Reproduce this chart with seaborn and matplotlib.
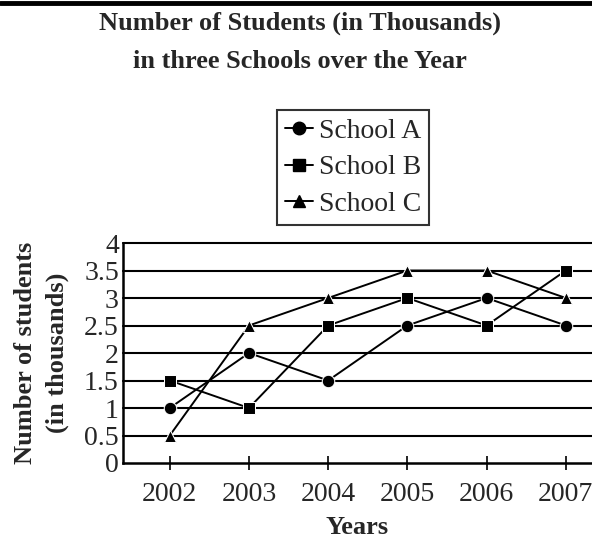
import matplotlib
matplotlib.use("Agg")
import matplotlib.pyplot as plt
import seaborn as sns
import pandas as pd
from matplotlib.lines import Line2D

years = [2002, 2003, 2004, 2005, 2006, 2007]
school_a = [1, 2, 1.5, 2.5, 3, 2.5]
school_b = [1.5, 1, 2.5, 3, 2.5, 3.5]
school_c = [0.5, 2.5, 3, 3.5, 3.5, 3]
series_names = ["School A", "School B", "School C"]
y_ticks = [0, 0.5, 1, 1.5, 2, 2.5, 3, 3.5, 4]
y_tick_labels = ["0", "0.5", "1", "1.5", "2", "2.5", "3", "3.5", "4"]

df = pd.DataFrame({
    "Year": years * 3,
    "Students": school_a + school_b + school_c,
    "School": [series_names[0]] * 6 + [series_names[1]] * 6 + [series_names[2]] * 6,
})

sns.set_theme(style="white")
plt.rcParams['font.family'] = ['Liberation Serif', 'DejaVu Serif']

fig = plt.figure(figsize=(5.92, 5.38), dpi=100)
ax = fig.add_axes([123 / 592, 1 - 463 / 538, 1 - 123 / 592, (463 - 243) / 538])

sns.lineplot(data=df, x="Year", y="Students", style="School", markers={"School A": "o", "School B": "s", "School C": "^"},
             dashes=False, color="black", markersize=9, linewidth=1.4, ax=ax, legend=False, zorder=3)

for yv in y_ticks[1:]:
    ax.axhline(yv, color="black", linewidth=1.5, zorder=1, clip_on=False)

ax.set_xlim(2001.41, 2007.33)
ax.set_ylim(0, 4)
ax.set_xticks(years)
ax.set_xticklabels([str(y) for y in years], fontsize=20)
ax.set_yticks(y_ticks)
ax.set_yticklabels(y_tick_labels, fontsize=20)
ax.tick_params(axis="x", direction="inout", length=10, width=1.2, color="black", pad=9, bottom=True)
ax.tick_params(axis="y", length=0, pad=3)
for s in ["top", "right"]:
    ax.spines[s].set_visible(False)
for s in ["left", "bottom"]:
    ax.spines[s].set_color("black")
    ax.spines[s].set_linewidth(1.8)

ax.set_xlabel("Years", fontsize=19, fontweight="bold", labelpad=6)
ax.set_ylabel("Number of students\n(in thousands)", fontsize=19, fontweight="bold", labelpad=11, linespacing=1.45)

handles = [Line2D([0], [0], color="black", marker=m, markersize=9, linewidth=1.4) for m in ["o", "s", "^"]]
leg = fig.legend(handles, series_names, loc="upper left", bbox_to_anchor=(277 / 592, 1 - 110 / 538),
                 fontsize=20, frameon=True, fancybox=False, edgecolor="black", handlelength=1.0,
                 handletextpad=0.2, borderpad=0.3, labelspacing=0.4, borderaxespad=0)
leg.get_frame().set_linewidth(1.5)

fig.text(300 / 592, 1 - 23 / 538, "Number of Students (in Thousands)", ha="center", va="center",
         fontsize=19, fontweight="bold")
fig.text(300 / 592, 1 - 62 / 538, "in three Schools over the Year", ha="center", va="center",
         fontsize=19, fontweight="bold")
fig.add_artist(Line2D([0, 1], [1 - 3 / 538, 1 - 3 / 538], color="black", linewidth=3.5, transform=fig.transFigure))

fig.savefig("out.png", dpi=100)
